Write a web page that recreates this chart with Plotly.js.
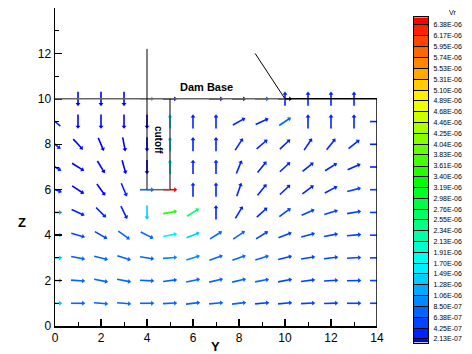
<!DOCTYPE html>
<html><head><meta charset="utf-8">
<script src="https://cdn.plot.ly/plotly-3.0.1.min.js"></script>
<style>html,body{margin:0;padding:0;background:#fff}#chart{width:472px;height:354px}</style>
</head><body><div id="chart"></div>
<script>
// Node coordinates (horizontal "Y", vertical "Z")
const Y_COORDS = [0,1,2,3,4,5,6,7,8,9,10,11,12,13,14];
const Z_COORDS = [1,2,3,4,5,6,7,8,9,10];

// Arrow direction (degrees, counter-clockwise from +Y) per row of Z
const ANGLE = [
  [0,0,-5,-5,0,3,7,5,7,5,5,3,2,0,0],
  [0,-4,-11,-11,-3,7,12,13,13,11,11,7,3,1,0],
  [0,-11,-14,-17,-9,4,17,19,19,17,14,9,7,3,0],
  [0,-16,-30,-36,-27,11,21,32,34,32,21,15,11,5,0],
  [0,-24,-45,-64,-90,10,33,90,59,42,36,24,17,10,0],
  [-20,-33,-54,-67,0,0,90,90,71,51,43,37,28,14,0],
  [-30,-32,-59,-74,-90,90,90,90,68,51,43,39,32,24,0],
  [-40,-47,-67,-79,-90,90,90,90,57,40,43,56,51,39,0],
  [140,-90,-90,-90,-90,90,90,90,29,25,34,90,90,90,0],
  [null,-90,-90,-90,0,0,null,0,0,0,90,90,90,90,null]
];

// Vr magnitude (x 1e-6) per node
const VR = [
  [1.4,0.75,0.75,0.75,0.8,0.8,0.75,0.7,0.65,0.6,0.6,0.55,0.55,0.55,0.6],
  [1.4,0.75,0.75,0.75,0.75,0.75,0.75,0.7,0.7,0.65,0.6,0.6,0.55,0.55,0.6],
  [1.4,0.7,0.7,0.75,0.8,1.0,0.9,0.7,0.7,0.65,0.6,0.6,0.55,0.55,0.6],
  [1.4,0.6,0.6,0.65,0.8,1.6,1.4,0.75,0.65,0.6,0.6,0.55,0.55,0.55,0.6],
  [1.2,0.3,0.3,0.35,1.4,3.4,2.6,0.3,0.35,0.4,0.45,0.5,0.5,0.5,0.5],
  [0.3,0.2,0.2,0.25,0.75,6.45,0.3,0.3,0.3,0.3,0.35,0.4,0.4,0.45,0.45],
  [0.3,0.15,0.15,0.15,0.2,1.6,0.3,0.3,0.3,0.3,0.3,0.35,0.35,0.4,0.4],
  [0.3,0.15,0.15,0.15,0.2,1.6,0.25,0.3,0.3,0.3,0.35,0.3,0.3,0.35,0.35],
  [0.3,0.15,0.15,0.15,0.2,1.6,0.25,0.25,0.3,0.3,0.8,0.25,0.25,0.25,0.3],
  [null,0.15,0.15,0.15,3.4,0.1,null,0.1,0.1,0.8,0.3,0.3,0.3,0.3,null]
];

// Extra (duplicate) node on the dam base
const EXTRA_Y = [10];
const EXTRA_Z = [10];
const EXTRA_ANGLE = [0];
const EXTRA_VR = [0.1];

// Contour level labels
const LEVEL_LABELS = ['2.13E-07','4.25E-07','6.38E-07','8.50E-07','1.06E-06','1.28E-06','1.49E-06','1.70E-06','1.91E-06','2.13E-06','2.34E-06','2.55E-06','2.76E-06','2.98E-06','3.19E-06','3.40E-06','3.61E-06','3.83E-06','4.04E-06','4.25E-06','4.46E-06','4.68E-06','4.89E-06','5.10E-06','5.31E-06','5.53E-06','5.74E-06','5.95E-06','6.17E-06','6.38E-06'];
const LEVELS = LEVEL_LABELS.map(s => parseFloat(s) * 1e6);
const VR_MIN = 0.14, VR_MAX = 6.53;

function rainbow(f){
  let r,g,b;
  if (f < 0.25){ r=0; g=255*f/0.25; b=255; }
  else if (f < 0.5){ r=0; g=255; b=255*(1-(f-0.25)/0.25); }
  else if (f < 0.75){ r=255*(f-0.5)/0.25; g=255; b=0; }
  else { r=255; g=255*(1-(f-0.75)/0.25); b=0; }
  return 'rgb(' + Math.round(r) + ',' + Math.round(g) + ',' + Math.round(b) + ')';
}
const NB = LEVELS.length; // 30
function band(v){ let k=0; for (const L of LEVELS) if (v >= L) k++; return k; }
const bandColors = []; for (let k=0;k<=NB;k++) bandColors.push(rainbow(k/NB));
const bandScale = bandColors.map((c,k) => [k/NB, c]);

// layout geometry
const W=472, H=354, ML=55, MR=10, MT=8, MB=8;
const PW = W-ML-MR, PH = H-MT-MB;          // paper area
const PLOT_R = 377, PLOT_B = 326;          // main plot right / bottom (px)
const PX_X = (PLOT_R-ML)/14, PX_Y = (PLOT_B-MT)/14;
const ARROW_PX = 14;

const arrows = [];
for (let r=0;r<Z_COORDS.length;r++) for (let c=0;c<Y_COORDS.length;c++){
  if (ANGLE[r][c] === null) continue;
  arrows.push({y:Y_COORDS[c], z:Z_COORDS[r], a:ANGLE[r][c], v:VR[r][c]});
}
for (let i=0;i<EXTRA_Y.length;i++) arrows.push({y:EXTRA_Y[i], z:EXTRA_Z[i], a:EXTRA_ANGLE[i], v:EXTRA_VR[i]});

const shaftByBand = {};
const hx=[], hy=[], hang=[], hc=[];
for (const ar of arrows){
  const t = ar.a*Math.PI/180, cx=Math.cos(t), cy=Math.sin(t);
  const x0 = ar.y - cx*ARROW_PX/2/PX_X, y0 = ar.z - cy*ARROW_PX/2/PX_Y;
  const x1 = ar.y + cx*(ARROW_PX/2-1.5)/PX_X, y1 = ar.z + cy*(ARROW_PX/2-1.5)/PX_Y;
  const k = band(ar.v);
  if (!shaftByBand[k]) shaftByBand[k] = {x:[], y:[]};
  shaftByBand[k].x.push(x0, x1, null); shaftByBand[k].y.push(y0, y1, null);
  hx.push(ar.y + cx*(ARROW_PX/2-1.8)/PX_X); hy.push(ar.z + cy*(ARROW_PX/2-1.8)/PX_Y);
  hang.push(90 - ar.a); hc.push(bandColors[k]);
}
const FONT = 'Liberation Sans, Arial, sans-serif';
const traces = [];
Object.keys(shaftByBand).forEach(k => {
  traces.push({type:'scatter', mode:'lines', x:shaftByBand[k].x, y:shaftByBand[k].y,
    line:{color:bandColors[k], width:1.6}, hoverinfo:'skip', showlegend:false});
});
traces.push({type:'scatter', mode:'markers', x:hx, y:hy, hoverinfo:'skip', showlegend:false,
  marker:{symbol:'triangle-up', size:4.2, angle:hang, color:hc, line:{width:0}}});
// colour legend: one brick per contour band
const bandEdges = [VR_MIN].concat(LEVELS, [VR_MAX]);
traces.push({type:'heatmap', xaxis:'x2', yaxis:'y2', x:[0], y:bandEdges,
  z:bandColors.map((c,k) => [k]), zmin:0, zmax:NB, colorscale:bandScale, showscale:false, hoverinfo:'skip'});

const shapes = [
  {type:'line', x0:0, x1:10, y0:10, y1:10, line:{color:'#666', width:1.5}},
  {type:'line', x0:10, x1:14, y0:10, y1:10, line:{color:'#000', width:1.5}},
  {type:'line', x0:14, x1:14, y0:10, y1:0, line:{color:'#000', width:1.5}},
  {type:'line', x0:4, x1:4, y0:12.2, y1:6, line:{color:'#000', width:1}},
  {type:'line', x0:5, x1:5, y0:10, y1:6, line:{color:'#000', width:1}},
  {type:'line', x0:4, x1:5, y0:6, y1:6, line:{color:'#666', width:1.5}},
  {type:'line', x0:8.7, x1:10, y0:12.0, y1:10, line:{color:'#000', width:1}}
];
const px2x = px => (px-ML)/PW, px2y = py => (H-MB-py)/PH;
const annotations = [
  {xref:'x', yref:'y', x:6.6, y:10.53, text:'<b>Dam Base</b>', showarrow:false, xanchor:'center', yanchor:'middle', font:{family:FONT, size:11, color:'#000'}},
  {xref:'x', yref:'y', x:4.47, y:8.2, text:'<b>cutoff</b>', textangle:90, showarrow:false, xanchor:'center', yanchor:'middle', font:{family:FONT, size:10, color:'#000'}},
  {xref:'paper', yref:'paper', x:px2x(22), y:px2y(222), text:'<b>Z</b>', showarrow:false, xanchor:'center', yanchor:'middle', font:{family:FONT, size:13, color:'#000'}},
  {xref:'paper', yref:'paper', x:px2x(215), y:px2y(347), text:'<b>Y</b>', showarrow:false, xanchor:'center', yanchor:'middle', font:{family:FONT, size:13, color:'#000'}},
  {xref:'paper', yref:'paper', x:px2x(452), y:px2y(12.5), text:'Vr', showarrow:false, xanchor:'center', yanchor:'middle', font:{family:FONT, size:7, color:'#000'}}
];
const axisCommon = {showgrid:false, zeroline:false, showline:true, linecolor:'#000', linewidth:1.5,
  ticks:'inside', ticklen:7, tickwidth:1.5, tickcolor:'#000', fixedrange:true,
  tickfont:{family:FONT, size:12, color:'#000'}};
const layout = {
  width:W, height:H, margin:{l:ML, r:MR, t:MT, b:MB, pad:0},
  paper_bgcolor:'#fff', plot_bgcolor:'#fff', hovermode:false, showlegend:false,
  xaxis:Object.assign({}, axisCommon, {domain:[0, px2x(PLOT_R)], anchor:'y', range:[0,14], tickmode:'array', tickvals:[0,2,4,6,8,10,12,14],
    minor:{tickmode:'array', tickvals:[1,3,5,7,9,11,13], ticks:'inside', ticklen:4, tickwidth:1, tickcolor:'#000'}}),
  yaxis:Object.assign({}, axisCommon, {domain:[px2y(PLOT_B), 1], anchor:'x', range:[0,14], tickmode:'array', tickvals:[0,2,4,6,8,10,12],
    minor:{tickmode:'array', tickvals:[1,3,5,7,9,11,13], ticks:'inside', ticklen:4, tickwidth:1, tickcolor:'#000'}}),
  xaxis2:{domain:[px2x(414), px2x(428)], anchor:'y2', range:[-0.5,0.5], showticklabels:false, ticks:'',
    showline:true, mirror:true, linecolor:'#000', linewidth:1, showgrid:false, zeroline:false, fixedrange:true},
  yaxis2:{domain:[px2y(342.7), px2y(17.3)], anchor:'x2', side:'right', range:[VR_MIN, VR_MAX],
    tickmode:'array', tickvals:LEVELS, ticktext:LEVEL_LABELS, ticks:'inside', ticklen:14, tickwidth:1, tickcolor:'#000',
    ticklabelstandoff:3, showline:true, mirror:true, linecolor:'#000', linewidth:1, showgrid:false, zeroline:false, fixedrange:true,
    tickfont:{family:FONT, size:7, color:'#000'}},
  shapes:shapes, annotations:annotations
};
Plotly.newPlot('chart', traces, layout, {staticPlot:true, displayModeBar:false});
</script></body></html>
